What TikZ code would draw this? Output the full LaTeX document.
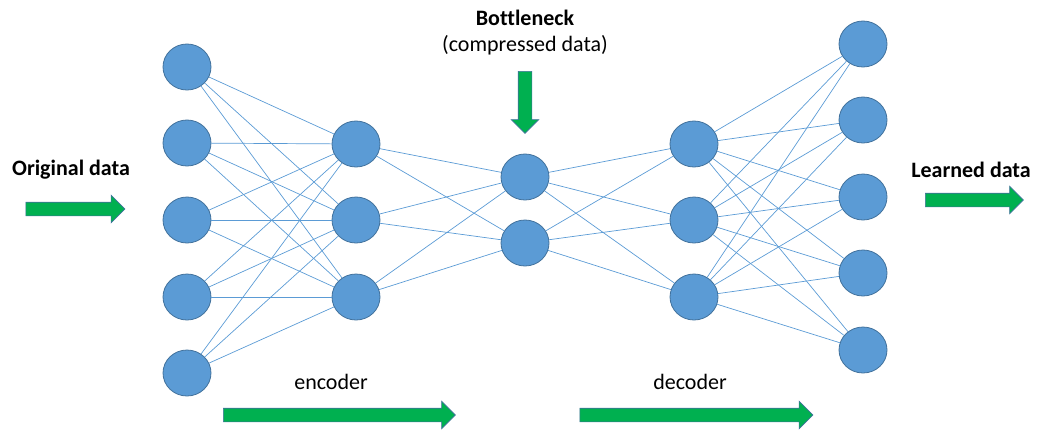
\documentclass[tikz,border=0pt]{standalone}
\usepackage{fontspec}
\setmainfont{Carlito}[Ligatures=NoCommon]
\usetikzlibrary{shapes.geometric,shapes.arrows}
\definecolor{nodeblue}{HTML}{5B9BD5}
\definecolor{rimblue}{HTML}{41719C}
\definecolor{arrowgreen}{HTML}{00B050}

\begin{document}
\begin{tikzpicture}[x=1pt,y=-1pt,
  neuron/.style={ellipse,fill=nodeblue,draw=rimblue,line width=0.8pt,minimum width=48pt,minimum height=46pt,inner sep=0pt},
  link/.style={nodeblue,line width=0.7pt},
  bigarrow/.style={single arrow,fill=arrowgreen,draw=rimblue,line width=0.6pt,inner sep=6.5pt,single arrow head extend=7pt,single arrow head indent=0pt,minimum height=#1},
  label/.style={font=\fontsize{22}{26}\selectfont,inner sep=0pt}]
\useasboundingbox (0,0) rectangle (1041,432);
% layers
\foreach \i/\y in {1/67,2/143,3/220,4/297,5/373} \node[neuron] (a\i) at (187,\y) {};
\foreach \i/\y in {1/144,2/220,3/297} \node[neuron] (b\i) at (356,\y) {};
\foreach \i/\y in {1/177,2/243} \node[neuron] (c\i) at (525,\y) {};
\foreach \i/\y in {1/144,2/220,3/297} \node[neuron] (d\i) at (694,\y) {};
\foreach \i/\y in {1/44,2/120,3/197,4/273,5/350} \node[neuron] (e\i) at (863,\y) {};
% connections
\foreach \i in {1,...,5} \foreach \j in {1,2,3} \draw[link] (a\i) -- (b\j);
\foreach \i in {1,2,3} \foreach \j in {1,2} \draw[link] (b\i) -- (c\j);
\foreach \i in {1,2} \foreach \j in {1,2,3} \draw[link] (c\i) -- (d\j);
\foreach \i in {1,2,3} \foreach \j in {1,...,5} \draw[link] (d\i) -- (e\j);
% labels and arrows
\node[label,font=\fontsize{22}{26}\selectfont\bfseries] (orig) at (71,170) {Original data};
\node[bigarrow=99pt] (inarrow) at (72,209) {};
\node[label,font=\fontsize{22}{26}\selectfont\bfseries] (learned) at (971,170) {Learned data};
\node[bigarrow=98pt] (outarrow) at (971,200) {};
\node[label,font=\fontsize{22}{26}\selectfont\bfseries] (neck) at (525,18) {Bottleneck};
\node[label] (compr) at (525,45) {(compressed data)};
\node[bigarrow=62pt,shape border rotate=270] (downarrow) at (525,99) {};
\node[label] (enc) at (331,382) {encoder};
\node[bigarrow=232pt] (encarrow) at (336,415) {};
\node[label] (dec) at (690,382) {decoder};
\node[bigarrow=233pt] (decarrow) at (693,415) {};
\end{tikzpicture}
\end{document}
